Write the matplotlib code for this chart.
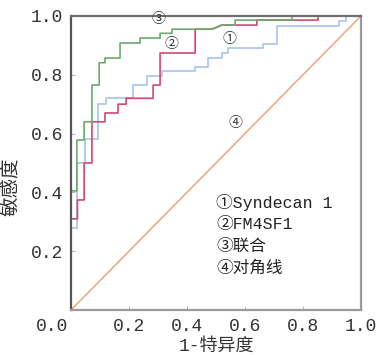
import matplotlib
matplotlib.use("Agg")
import matplotlib.pyplot as plt
from matplotlib.transforms import ScaledTranslation

plt.rcParams['font.family'] = ['Liberation Mono', 'Noto Sans CJK SC', 'DejaVu Sans']

# ROC curve vertices (1-specificity, sensitivity)
fpr_syn = [0, 0, 0.02, 0.02, 0.048, 0.048, 0.093, 0.093, 0.12, 0.12, 0.214, 0.214,
           0.262, 0.262, 0.314, 0.314, 0.428, 0.428, 0.472, 0.472, 0.52, 0.52,
           0.541, 0.541, 0.662, 0.662, 0.71, 0.71, 0.925, 0.925, 0.948, 0.948, 1.0]
tpr_syn = [0, 0.28, 0.28, 0.50, 0.50, 0.58, 0.58, 0.70, 0.70, 0.72, 0.72, 0.765,
           0.765, 0.796, 0.796, 0.813, 0.813, 0.828, 0.828, 0.857, 0.857, 0.874,
           0.874, 0.89, 0.89, 0.905, 0.905, 0.967, 0.967, 0.983, 0.983, 1.0, 1.0]

fpr_fm = [0, 0, 0.022, 0.022, 0.045, 0.045, 0.072, 0.072, 0.117, 0.117, 0.162, 0.162,
          0.19, 0.19, 0.283, 0.283, 0.307, 0.307, 0.428, 0.428, 0.486, 0.52,
          0.641, 0.641, 0.852, 0.852, 1.0]
tpr_fm = [0, 0.31, 0.31, 0.374, 0.374, 0.50, 0.50, 0.64, 0.64, 0.67, 0.67, 0.70,
          0.70, 0.72, 0.72, 0.765, 0.765, 0.874, 0.874, 0.955, 0.955, 0.969,
          0.969, 0.986, 0.986, 1.0, 1.0]

fpr_comb = [0, 0, 0.02, 0.02, 0.045, 0.045, 0.072, 0.072, 0.097, 0.097, 0.117, 0.117,
            0.169, 0.169, 0.238, 0.238, 0.307, 0.307, 0.348, 0.348, 0.486, 0.52,
            0.566, 0.566, 0.762, 0.762, 1.0]
tpr_comb = [0, 0.405, 0.405, 0.578, 0.578, 0.64, 0.64, 0.765, 0.765, 0.841, 0.841, 0.857,
            0.857, 0.908, 0.908, 0.925, 0.925, 0.941, 0.941, 0.955, 0.955, 0.969,
            0.969, 0.986, 0.986, 1.0, 1.0]

diag = [0, 1]

x_ticks = [0.0, 0.2, 0.4, 0.6, 0.8, 1.0]
x_tick_labels = ['0.0', '0.2', '0.4', '0.6', '0.8', '1.0']
y_ticks = [0.2, 0.4, 0.6, 0.8, 1.0]
y_tick_labels = ['0.2', '0.4', '0.6', '0.8', '1.0']
legend_lines = ['①Syndecan 1', '②FM4SF1', '③联合', '④对角线']

fig = plt.figure(figsize=(3.76, 3.55), dpi=100)
ax = fig.add_axes([0.189, 0.127, 0.771, 0.828])

ax.plot(diag, diag, color='#f0a47c', lw=1.1)
ax.plot(fpr_syn, tpr_syn, color='#a8c2ea', lw=1.2)
ax.plot(fpr_fm, tpr_fm, color='#d4476f', lw=1.2)
ax.plot(fpr_comb, tpr_comb, color='#6aaa6e', lw=1.2)

ax.set_xlim(0, 1)
ax.set_ylim(0, 1)
ax.set_xticks(x_ticks)
ax.set_xticklabels(x_tick_labels)
ax.set_yticks(y_ticks)
ax.set_yticklabels(y_tick_labels)
ax.tick_params(direction='in', length=3, color='#bbbbbb', labelsize=13, pad=6,
               labelcolor='#333333')
# the corner "0.0" sits left of the origin
lbl0 = ax.get_xticklabels()[0]
lbl0.set_transform(lbl0.get_transform() + ScaledTranslation(-0.19, 0, fig.dpi_scale_trans))

ax.spines['left'].set_color('#555555')
ax.spines['top'].set_color('#707070')
ax.spines['right'].set_color('#9a9a9a')
ax.spines['bottom'].set_color('#9a9a9a')
for s in ax.spines.values():
    s.set_linewidth(1.6)

ax.text(0.30, 0.99, '③', fontsize=10, ha='center', va='center', color='#333333')
ax.text(0.345, 0.905, '②', fontsize=10, ha='center', va='center', color='#333333')
ax.text(0.545, 0.922, '①', fontsize=10, ha='center', va='center', color='#333333')
ax.text(0.566, 0.636, '④', fontsize=10, ha='center', va='center', color='#333333')

for i, t in enumerate(legend_lines):
    ax.text(0.50, 0.367 - i * 0.075, t, fontsize=12, ha='left', va='center',
            color='#222222')

ax.set_xlabel('1-特异度', fontsize=13, labelpad=2, color='#333333')
ax.set_ylabel('敏感度', fontsize=14, color='#333333')
ax.yaxis.set_label_coords(-0.175, 0.42)

fig.savefig('out.png', dpi=100)
